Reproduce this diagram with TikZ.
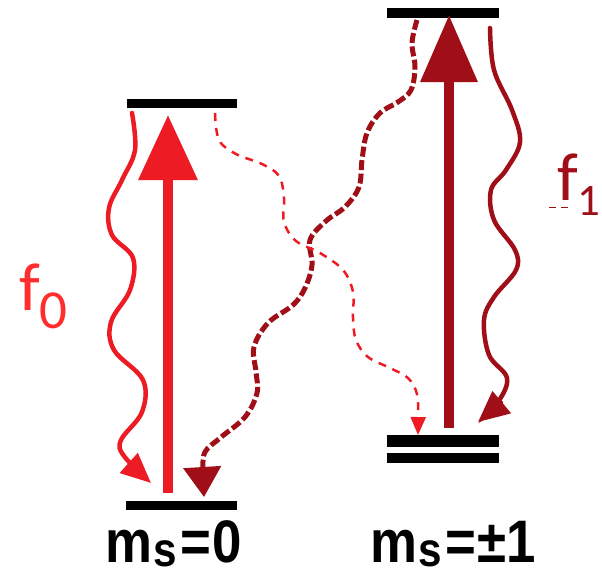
\documentclass[tikz,border=0pt]{standalone}
\usepackage{fontspec}
\setmainfont{Liberation Sans}
\newfontfamily\calib{Carlito}
\usetikzlibrary{arrows.meta}
\definecolor{lred}{RGB}{237,28,36}
\definecolor{tred}{RGB}{255,45,45}
\definecolor{dred}{RGB}{160,14,24}
\tikzset{
  level/.style={fill=black},
  pump/.style={line width=10pt},
  wave/.style={line width=4pt, line cap=round},
  nonrad/.style={line width=5pt, dash pattern=on 10pt off 3.5pt},
  thindash/.style={line width=2.5pt, dash pattern=on 8pt off 7pt},
  msl/.style={anchor=base west, inner sep=0pt, xscale=0.88},
}
\newcommand{\mslabel}[1]{\fontsize{60}{60}\selectfont\bfseries m\kern1pt\raisebox{-4pt}{\fontsize{48}{48}\selectfont s}\kern4pt=\kern2pt #1}
\begin{document}
\begin{tikzpicture}[x=1pt,y=-1pt]
\useasboundingbox (0,0) rectangle (602,576);
% levels
\fill[level] (127,99) rectangle (237,108);
\fill[level] (126,501) rectangle (237,510);
\fill[level] (387,8) rectangle (499,18);
\fill[level] (387,435) rectangle (499,447);
\fill[level] (387,453) rectangle (499,463);
% pump arrows
\coordinate (a0) at (168,493); \coordinate (b0) at (168,115);
\draw[pump, lred, -{Triangle[length=65pt,width=57pt]}] (a0) -- (b0);
\coordinate (a1) at (449,428); \coordinate (b1) at (449,15);
\draw[pump, dred, -{Triangle[length=67pt,width=55pt]}] (a1) -- (b1);
% wavy emission f0
\draw[wave, lred, line width=4.5pt, -{Triangle[length=30pt,width=26pt]}] plot[smooth, tension=0.6] coordinates {
 (132,113) (135,150) (122,180) (109,208) (112,235) (133,258) (130,290) (111,322) (114,350) (143,380) (142,412) (121,440) (124,456) (151,483)};
% wavy emission f1
\draw[wave, dred, line width=4.5pt, -{Triangle[length=31pt,width=28pt]}] plot[smooth, tension=0.6] coordinates {
 (490,28) (494,70) (512,110) (520,142) (506,170) (491,190) (494,220) (515,250) (516,270) (494,297) (484,320) (489,355) (507,378) (498,402) (478,422)};
% nonradiative dark dashed
\draw[nonrad, dred, -{Triangle[length=30pt,width=37pt]}] plot[smooth, tension=0.6] coordinates {
 (417,20) (412,43) (415,67) (411,90) (398,102) (380,113) (367,133) (362,160) (359,187) (345,207) (326,221) (310,240) (312,265) (305,288) (293,305) (268,323) (254,347) (256,372) (257,393) (245,417) (220,438) (205,452) (203,470) (204,497)};
% thin dashed red
\draw[thindash, lred, -{Triangle[length=18pt,width=15pt]}] plot[smooth, tension=0.6] coordinates {
 (215,113) (219,140) (236,154) (262,164) (279,176) (284,198) (284,222) (296,241) (320,253) (343,270) (353,292) (353,318) (356,340) (368,357) (390,368) (408,378) (417,394) (418,415) (418,435)};
% labels
\node[anchor=base west, inner sep=0pt, text=tred] (f0) at (19,310)
  {\calib\fontsize{68}{68}\selectfont f\raisebox{-18pt}{\fontsize{55}{55}\selectfont 0}};
\node[anchor=base west, inner sep=0pt, text=dred] (f1) at (557,200)
  {\calib\fontsize{68}{68}\selectfont f\raisebox{-15pt}{\fontsize{45}{45}\selectfont 1}};
\draw[dred, line width=1pt, dash pattern=on 7pt off 5pt] (549,207) -- (569,207);
\node[msl] (l0) at (105,562) {\mslabel{0}};
\node[msl] (l1) at (370,562) {\mslabel{\symbol{"00B1}1}};
\end{tikzpicture}
\end{document}
